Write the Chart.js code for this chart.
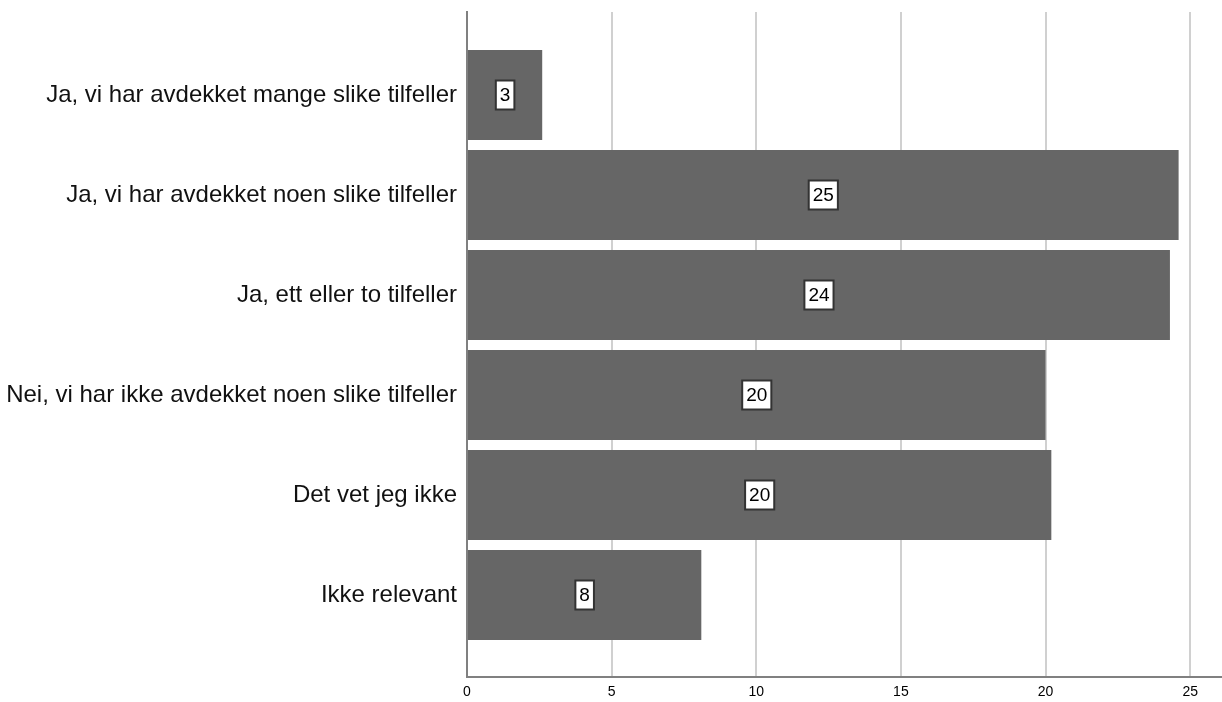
<!DOCTYPE html>
<html>
<head>
<meta charset="utf-8">
<script src="https://cdn.jsdelivr.net/npm/chart.js@4.4.1/dist/chart.umd.min.js"></script>
<style>
    html, body { margin: 0; padding: 0; background: #ffffff; }
    #wrap { width: 1222px; height: 702px; }
</style>
</head>
<body>
<div id="wrap"><canvas id="chartSvar"></canvas></div>
<script>
// data lest av bildet (prosent)
const categories = [
    'Ja, vi har avdekket mange slike tilfeller',
    'Ja, vi har avdekket noen slike tilfeller',
    'Ja, ett eller to tilfeller',
    'Nei, vi har ikke avdekket noen slike tilfeller',
    'Det vet jeg ikke',
    'Ikke relevant'
];
const values = [2.6, 24.6, 24.3, 20.0, 20.2, 8.1];
const xTicks = [0, 5, 10, 15, 20, 25];

const fontFamily = '"Liberation Sans", Arial, sans-serif';

// hvite bokser med avrundet verdi midt i hver stolpe
const valueBoxes = {
    id: 'valueBoxes',
    afterDatasetsDraw(chart) {
        const ctx = chart.ctx;
        const meta = chart.getDatasetMeta(0);
        ctx.save();
        ctx.font = '19px ' + fontFamily;
        ctx.textAlign = 'center';
        ctx.textBaseline = 'middle';
        meta.data.forEach((bar, i) => {
            const txt = String(Math.round(values[i]));
            const cx = (bar.x + bar.base) / 2;
            const cy = bar.y;
            const w = ctx.measureText(txt).width + 8;
            const h = 29;
            ctx.fillStyle = '#ffffff';
            ctx.fillRect(cx - w / 2, cy - h / 2, w, h);
            ctx.strokeStyle = '#333333';
            ctx.lineWidth = 2;
            ctx.strokeRect(cx - w / 2, cy - h / 2, w, h);
            ctx.fillStyle = '#000000';
            ctx.fillText(txt, cx, cy + 1);
        });
        ctx.restore();
    }
};

new Chart(document.getElementById('chartSvar'), {
    type: 'bar',
    data: {
        datasets: [{
            data: values.map((v, i) => ({ x: v, y: i })),
            backgroundColor: '#666666',
            borderWidth: 0,
            barPercentage: 0.9,
            categoryPercentage: 1.0
        }]
    },
    options: {
        indexAxis: 'y',
        responsive: true,
        maintainAspectRatio: false,
        animation: false,
        layout: { padding: { top: 12, right: 0, left: 0, bottom: 0 } },
        plugins: { legend: { display: false }, tooltip: { enabled: false } },
        scales: {
            x: {
                type: 'linear',
                min: 0,
                max: 26.1,
                afterFit(scale) { scale.height = 25; },
                grid: { color: '#d0d0d0', lineWidth: 2, drawTicks: false },
                border: { display: true, color: '#808080', width: 2 },
                ticks: {
                    stepSize: 5,
                    includeBounds: false,
                    padding: 7,
                    color: '#000000',
                    font: { family: fontFamily, size: 14 },
                    callback: v => xTicks.includes(v) ? String(v) : ''
                }
            },
            y: {
                type: 'linear',
                reverse: true,
                offset: false,
                min: -0.83,
                max: 5.82,
                afterFit(scale) {
                    scale.width = 467;
                    scale.paddingTop = 0;
                    scale.paddingBottom = 0;
                },
                grid: { display: false, drawTicks: false },
                border: { display: true, color: '#808080', width: 2 },
                ticks: {
                    stepSize: 1,
                    includeBounds: false,
                    padding: 10,
                    color: '#111111',
                    font: { family: fontFamily, size: 24 },
                    callback: v => categories[v] ?? ''
                }
            }
        }
    },
    plugins: [valueBoxes]
});
</script>
</body>
</html>
